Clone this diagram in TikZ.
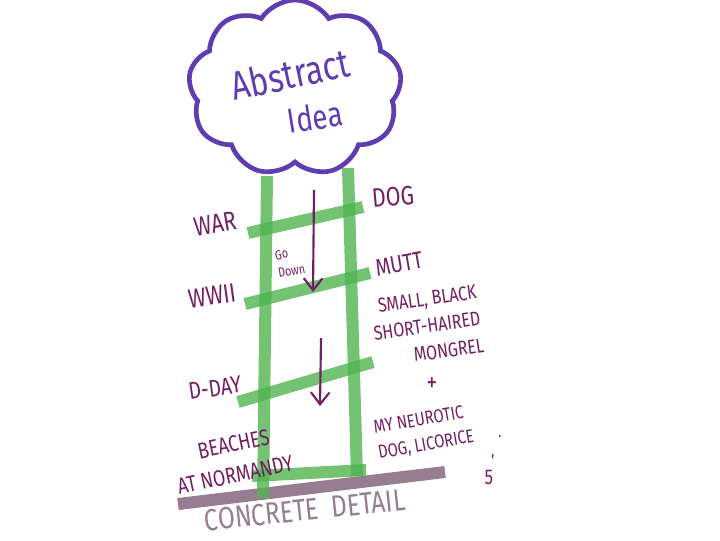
\documentclass[tikz,border=0pt]{standalone}
\usepackage{fontspec}
\setmainfont{Fira Sans}
\newfontfamily\handfont[FakeStretch=0.8]{Fira Sans}
\usetikzlibrary{shapes.symbols,arrows.meta}
\definecolor{cloudblue}{RGB}{95,60,175}
\definecolor{laddergreen}{RGB}{80,180,80}
\definecolor{inkpurple}{RGB}{115,30,100}
\definecolor{groundgray}{RGB}{150,125,145}
\tikzset{
  word/.style={text=inkpurple, font=\handfont\fontsize{#1}{#1}\linespread{1.35}\selectfont, align=center, inner sep=0pt},
  word/.default=18,
  rail/.style={draw=laddergreen, line width=9pt, opacity=0.8},
  godown/.style={draw=inkpurple, line width=1.6pt, -{Straight Barb[length=9pt,width=14pt]}},
}
\begin{document}
\begin{tikzpicture}[x=0.75pt,y=-0.75pt]
\useasboundingbox (0,0) rectangle (720,540);
% cloud on top
\node[cloud, draw=cloudblue, line width=3.5pt, cloud puffs=9, cloud puff arc=115,
      minimum width=160pt, minimum height=132pt] (idea) at (295,88) {};
\draw(290,74) node[rotate=12, text=cloudblue, font=\handfont\fontsize{30}{30}\selectfont] (abstract) {Abstract};
\draw(315,117) node[rotate=9, text=cloudblue, font=\handfont\fontsize{26}{26}\selectfont] (ideaword) {Idea};
% ground
\draw[draw=groundgray, line width=9pt] (178,504) -- (445,472);
% ladder
\draw[rail] (267,176) -- (263,498);
\draw[rail] (348,168) -- (357,476);
\draw[rail] (248,233) -- (363,207);
\draw[rail] (245,304) -- (370,273);
\draw[rail] (238,402) -- (373,362);
\draw[rail] (252,476) -- (366,470);
% arrows
\coordinate (top1) at (314,190);
\coordinate (bot1) at (313,292);
\coordinate (top2) at (321,338);
\coordinate (bot2) at (320,406);
\draw[godown] (top1) -- (bot1);
\draw[godown] (top2) -- (bot2);
% left words
\draw(215,224) node[word=20, rotate=10] (war) {WAR};
\draw(212,296) node[word=20, rotate=8] (wwii) {WWII};
\draw(215,388) node[word=18, rotate=8] (dday) {D-DAY};
\draw(232,460) node[word=17, rotate=12, align=left] (beaches) {\hspace*{1.2em}BEACHES\\AT NORMANDY};
\draw(290,262) node[word=10, rotate=10, align=left] (go) {Go\\Down};
% right words
\draw(393,197) node[word=20, rotate=5] (dog) {DOG};
\draw(399,264) node[word=18, rotate=10] (mutt) {MUTT};
\draw(427,326) node[word=15, rotate=8, align=right] (mongrel) {SMALL, BLACK\\SHORT-HAIRED\\MONGREL};
\draw(432,385) node[word=20] (plus) {+};
\draw(424,433) node[word=14, rotate=10, align=left] (licorice) {MY NEUROTIC\\DOG, LICORICE};
\draw(500,437) node[word=12] (dot) {.};
\draw(493,457) node[word=12] (comma) {,};
\draw(489,477) node[word=16] (five) {5};
% bottom
\draw(305,510) node[rotate=6, text=groundgray, font=\handfont\fontsize{23}{23}\selectfont] (concrete) {CONCRETE\ \ DETAIL};
\end{tikzpicture}
\end{document}
